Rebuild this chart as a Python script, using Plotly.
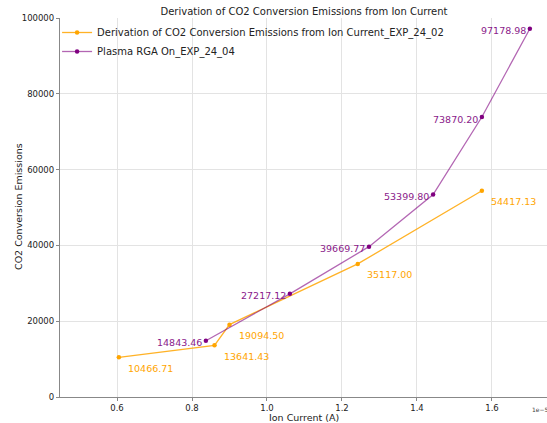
import plotly.graph_objects as go

# Data (Ion current in units of 1e-5 A)
orange_x = [0.605, 0.860, 0.900, 1.242, 1.573]
orange_y = [10466.71, 13641.43, 19094.50, 35117.00, 54417.13]
purple_x = [0.837, 1.061, 1.272, 1.443, 1.573, 1.701]
purple_y = [14843.46, 27217.12, 39669.77, 53399.80, 73870.20, 97178.98]
orange_name = "Derivation of CO2 Conversion Emissions from Ion Current_EXP_24_02"
purple_name = "Plasma RGA On_EXP_24_04"
x_ticks = [0.6, 0.8, 1.0, 1.2, 1.4, 1.6]
y_ticks = [0, 20000, 40000, 60000, 80000, 100000]

ORANGE = "#FFA500"
PURPLE = "#800080"
FONT = "DejaVu Sans"
W, H = 547, 423
L, R, T, B = 60, 0, 18, 26

fig = go.Figure()
fig.add_trace(go.Scatter(
    x=orange_x, y=orange_y, mode="lines+markers", name=orange_name,
    line=dict(color="rgba(255,165,0,0.85)", width=1.3),
    marker=dict(color=ORANGE, size=4.5),
))
fig.add_trace(go.Scatter(
    x=purple_x, y=purple_y, mode="lines+markers", name=purple_name,
    line=dict(color="rgba(128,0,128,0.6)", width=1.3),
    marker=dict(color=PURPLE, size=4.5),
))

for xv, yv in zip(orange_x, orange_y):
    fig.add_annotation(x=xv, y=yv, text=f"{yv:.2f}", showarrow=False,
                       xanchor="left", yanchor="middle", xshift=7, yshift=-11,
                       font=dict(family=FONT, size=9.5, color=ORANGE))
for xv, yv in zip(purple_x, purple_y):
    fig.add_annotation(x=xv, y=yv, text=f"{yv:.2f}", showarrow=False,
                       xanchor="right", yanchor="middle", xshift=-2, yshift=-2,
                       font=dict(family=FONT, size=9.5, color="#8a1a8a"))

pw, ph = W - L - R, H - T - B
def px_x(p):
    return (p - L) / pw
def px_y(p):
    return (H - B - p) / ph

# exponent offset text
fig.add_annotation(xref="paper", yref="paper", x=px_x(530), y=px_y(409),
                   text="1e\u22125", showarrow=False, xanchor="left", yanchor="middle",
                   font=dict(family=FONT, size=6, color="#444"))
# axis titles
fig.add_annotation(xref="paper", yref="paper", x=px_x(304), y=px_y(417.5),
                   text="Ion Current (A)", showarrow=False,
                   xanchor="center", yanchor="middle",
                   font=dict(family=FONT, size=9.5, color="#222"))
fig.add_annotation(xref="paper", yref="paper", x=px_x(18), y=px_y(207),
                   text="CO2 Conversion Emissions", showarrow=False, textangle=-90,
                   xanchor="center", yanchor="middle",
                   font=dict(family=FONT, size=9.5, color="#222"))

fig.update_layout(
    width=W, height=H,
    margin=dict(l=L, r=R, t=T, b=B),
    paper_bgcolor="white", plot_bgcolor="white",
    font=dict(family=FONT, color="#222"),
    title=dict(text="Derivation of CO2 Conversion Emissions from Ion Current",
               x=304 / W, xanchor="center", y=1 - 11 / H, yanchor="middle",
               font=dict(family=FONT, size=10, color="#222")),
    legend=dict(x=-0.006, y=1.0, xanchor="left", yanchor="top",
                bgcolor="rgba(255,255,255,0)", borderwidth=0,
                font=dict(family=FONT, size=10, color="#222"),
                tracegroupgap=0, itemwidth=30),
    showlegend=True,
)
fig.update_xaxes(range=[0.448, 1.7467], tickvals=x_ticks,
                 ticktext=[f"{v:.1f}" for v in x_ticks],
                 showgrid=True, gridcolor="#e3e3e3", gridwidth=1,
                 showline=True, linecolor="#888", linewidth=1.2, mirror=False,
                 ticks="outside", ticklen=3, tickcolor="#888",
                 tickfont=dict(family=FONT, size=8.5, color="#222"),
                 zeroline=False)
fig.update_yaxes(range=[0, 100000], tickvals=y_ticks,
                 ticktext=[str(v) for v in y_ticks],
                 showgrid=True, gridcolor="#e3e3e3", gridwidth=1,
                 showline=True, linecolor="#888", linewidth=1.2, mirror=True,
                 ticks="outside", ticklen=3, tickcolor="#888",
                 tickfont=dict(family=FONT, size=8.5, color="#222"),
                 zeroline=False)

fig.write_html("out.html", config={"displayModeBar": False},
               post_script="document.body.style.margin='0';document.body.style.overflow='hidden';")
